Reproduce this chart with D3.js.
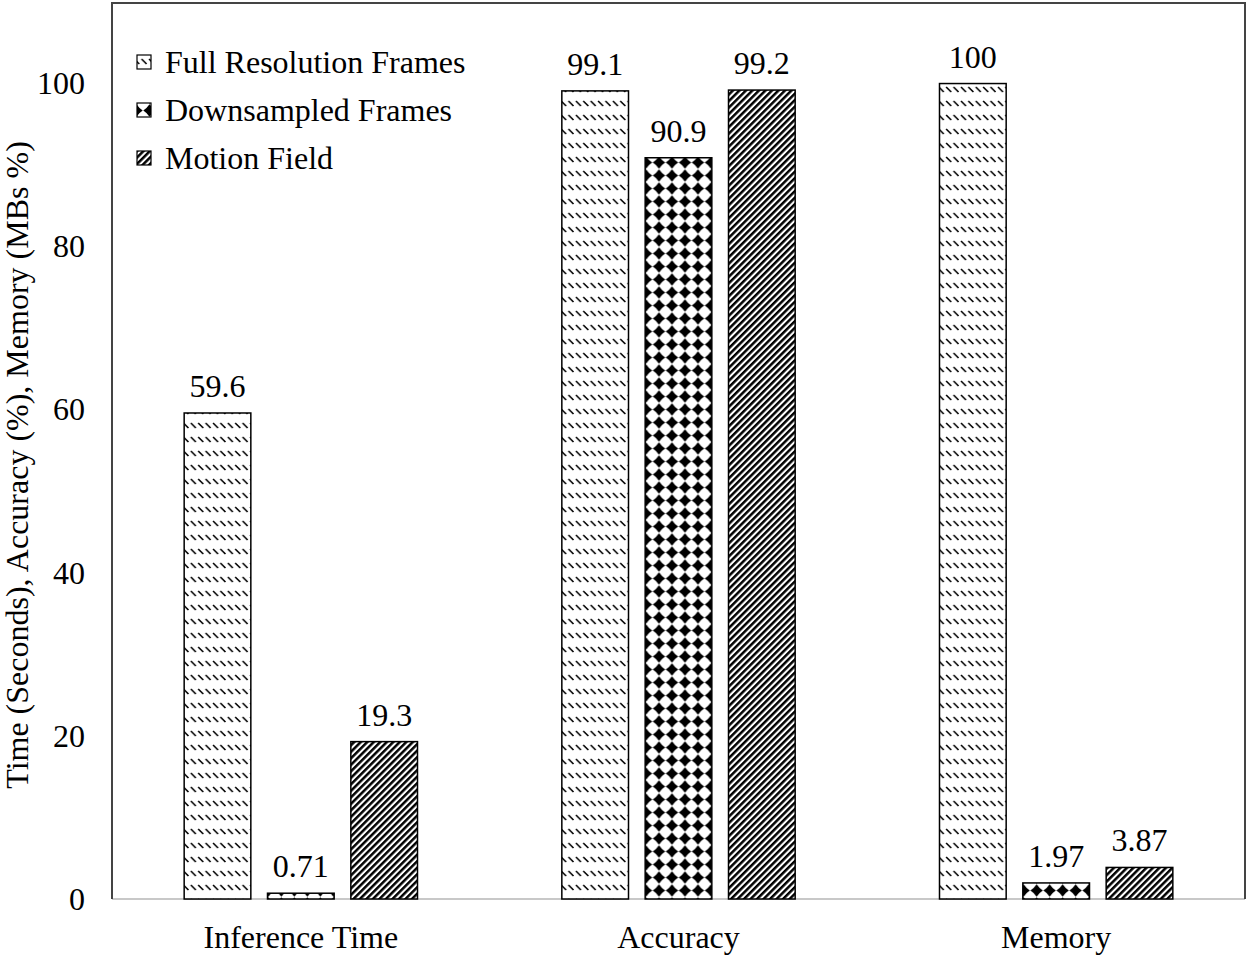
<!DOCTYPE html>
<html><head><meta charset="utf-8">
<script src="https://cdn.jsdelivr.net/npm/d3@7"></script>
<style>body{margin:0;background:#fff}svg{display:block}text{font-family:"Liberation Serif","Times New Roman",serif;fill:#000}</style>
</head><body><svg id="c" width="1250" height="959"></svg>
<script>
const categories = ["Inference Time", "Accuracy", "Memory"];
const seriesNames = ["Full Resolution Frames", "Downsampled Frames", "Motion Field"];
const fullRes = [59.6, 99.1, 100];
const downsampled = [0.71, 90.9, 1.97];
const motionField = [19.3, 99.2, 3.87];
const valueLabels = [["59.6","0.71","19.3"],["99.1","90.9","99.2"],["100","1.97","3.87"]];
const yTicks = [0, 20, 40, 60, 80, 100];
const yTitle = "Time (Seconds), Accuracy (%), Memory (MBs %)";

(function(){
const svg = d3.select("#c");
const L = 112, R = 1245, T = 2, B = 899;
const y = d3.scaleLinear().domain([0, 110]).range([B, T]);
const x = d3.scaleBand().domain(categories).range([L, R]);
const xs = d3.scaleBand().domain(seriesNames).range([-125, 125]).paddingInner(0.2).paddingOuter(0.1);
const seriesVals = [fullRes, downsampled, motionField];
const patIds = ["pFR", "pDS", "pMF"];

const defs = svg.append("defs");
// Full resolution: rows of small "\" dashes
const p1 = defs.append("pattern").attr("id","pFR").attr("patternUnits","userSpaceOnUse")
  .attr("width",7.4).attr("height",14);
p1.append("rect").attr("width",7.4).attr("height",14).attr("fill","#fff");
p1.append("line").attr("x1",1).attr("y1",3).attr("x2",6).attr("y2",8)
  .attr("stroke","#000").attr("stroke-width",1.6);
// Downsampled: black diamonds grid
const s = 13;
const p2 = defs.append("pattern").attr("id","pDS").attr("patternUnits","userSpaceOnUse")
  .attr("width",s).attr("height",s);
p2.append("rect").attr("width",s).attr("height",s).attr("fill","#fff");
const h = s/2, d = 6.2, k = 0.9;
const pT = [h, h-d], pR = [h+d, h], pB = [h, h+d], pL = [h-d, h];
const ctrl = (a, b) => { const mx=(a[0]+b[0])/2, my=(a[1]+b[1])/2; const dx=h-mx, dy=h-my; const n=Math.hypot(dx,dy); return [mx+dx/n*k, my+dy/n*k]; };
const pts = [pT, pR, pB, pL, pT];
let dp = `M${pT[0]},${pT[1]}`;
for (let i = 0; i < 4; i++) { const c = ctrl(pts[i], pts[i+1]); dp += ` Q${c[0]},${c[1]} ${pts[i+1][0]},${pts[i+1][1]}`; }
p2.append("path").attr("fill","#000").attr("d", dp + " Z");
// Motion field: dense "/" stripes
const p3 = defs.append("pattern").attr("id","pMF").attr("patternUnits","userSpaceOnUse")
  .attr("width",4.6).attr("height",4.6).attr("patternTransform","rotate(45)");
p3.append("rect").attr("width",4.6).attr("height",4.6).attr("fill","#fff");
p3.append("rect").attr("x",0).attr("width",2.5).attr("height",4.6).attr("fill","#000");

// frame
svg.append("line").attr("x1",L).attr("x2",R).attr("y1",B).attr("y2",B).attr("stroke","#c8c8c8").attr("stroke-width",2);
svg.append("path").attr("d",`M${L},${B} V${T+1} H${R} V${B}`).attr("fill","none").attr("stroke","#444").attr("stroke-width",2);

// bars
categories.forEach((c, ci) => {
  const g = svg.append("g").attr("transform",`translate(${x(c)+x.bandwidth()/2},0)`);
  seriesNames.forEach((sn, si) => {
    const v = seriesVals[si][ci];
    g.append("rect").attr("x",xs(sn)).attr("y",y(v)).attr("width",xs.bandwidth())
      .attr("height",y(0)-y(v)).attr("fill",`url(#${patIds[si]})`).attr("stroke","#000").attr("stroke-width",1.5);
    g.append("text").attr("x",xs(sn)+xs.bandwidth()/2).attr("y",y(v)-16)
      .attr("text-anchor","middle").attr("font-size",32).text(valueLabels[ci][si]);
  });
});

// y axis
const ya = svg.append("g").attr("transform",`translate(${L},0)`)
  .call(d3.axisLeft(y).tickValues(yTicks).tickSize(0).tickPadding(27));
ya.select(".domain").remove();
ya.selectAll("text").attr("font-size",32).attr("font-family","Liberation Serif").attr("fill","#000");

// x axis labels
const xa = svg.append("g").attr("transform",`translate(0,${B})`)
  .call(d3.axisBottom(x).tickSize(0).tickPadding(26));
xa.select(".domain").remove();
xa.selectAll("text").attr("font-size",32).attr("font-family","Liberation Serif").attr("fill","#000");

// y title
svg.append("text").attr("transform",`translate(28,465) rotate(-90)`)
  .attr("text-anchor","middle").attr("font-size",32).text(yTitle);

// legend
seriesNames.forEach((sn, i) => {
  const ly = 62 + i*48;
  svg.append("rect").attr("x",137).attr("y",ly-7).attr("width",14).attr("height",14)
    .attr("fill",`url(#${patIds[i]})`).attr("stroke","#000").attr("stroke-width",1.2);
  svg.append("text").attr("x",165).attr("y",ly+11).attr("font-size",32).text(sn);
});
})();
</script></body></html>
